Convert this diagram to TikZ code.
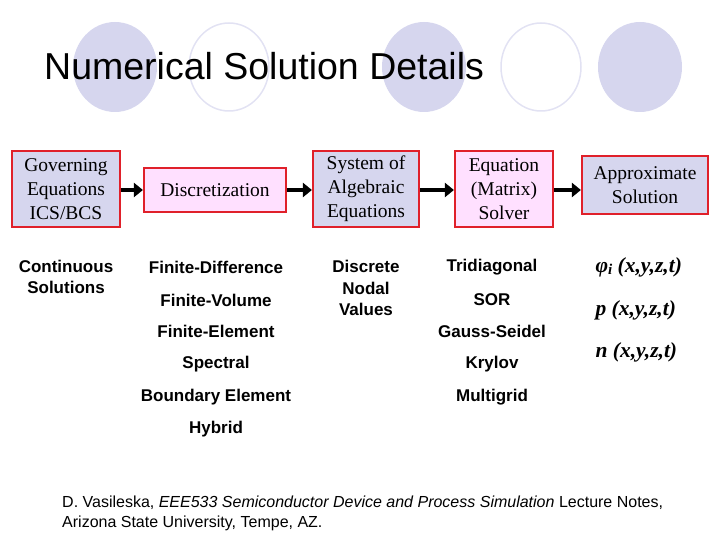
\documentclass[tikz,border=0pt]{standalone}
\usepackage{fontspec}
\setmainfont{Liberation Serif}
\newfontfamily\arial{Liberation Sans}
\usetikzlibrary{arrows.meta}
\definecolor{lav}{HTML}{D6D6EE}
\definecolor{pnk}{HTML}{FFE0FF}
\definecolor{bred}{HTML}{E0202A}
\tikzset{
 boxa/.style={draw=bred,line width=2.2pt,fill=lav,align=center,font=\fontsize{19.5}{24}\selectfont,inner sep=0pt},
 boxb/.style={boxa,fill=pnk},
 item/.style={font=\arial\bfseries\fontsize{17}{21.5}\selectfont,align=center},
 fn/.style={font=\bfseries\itshape\fontsize{21.5}{24}\selectfont},
 conn/.style={line width=4pt,-{Triangle[length=9pt,width=14pt]}},
}
\begin{document}
\begin{tikzpicture}[x=1pt,y=-1pt]
\useasboundingbox (0,0) rectangle (720,540);
\fill[lav] (115,67) ellipse [x radius=42,y radius=45];
\draw[lav!70,line width=1.5pt] (229,67) ellipse [x radius=40,y radius=44];
\fill[lav] (424,67) ellipse [x radius=42,y radius=45];
\draw[lav!70,line width=1.5pt] (541,67) ellipse [x radius=40,y radius=44];
\fill[lav] (640,67) ellipse [x radius=42,y radius=45];
\node[anchor=base west,font=\arial\fontsize{37.5}{40}\selectfont,inner sep=0] (title) at (44,80) {Numerical Solution Details};

\node[boxa,minimum width=108pt,minimum height=76pt] (b1) at (66,189) {Governing\\Equations\\ICS/BCS};
\node[boxb,minimum width=142pt,minimum height=44pt] (b2) at (215,190) {Discretization};
\node[boxa,minimum width=106pt,minimum height=76pt] (b3) at (366,189) {System of\\Algebraic\\Equations};
\node[boxb,minimum width=98pt,minimum height=76pt] (b4) at (504,189) {Equation\\(Matrix)\\Solver};
\node[boxa,minimum width=126pt,minimum height=58pt] (b5) at (645,185) {Approximate\\Solution};
\draw[conn] (b1.east|-b2) -- (b2.west);
\draw[conn] (b2.east) -- (b3.west|-b2);
\draw[conn] (b3.east|-b2) -- (b4.west|-b2);
\draw[conn] (b4.east|-b2) -- (b5.west|-b2);

\node[item] (c1) at (66,277) {Continuous\\Solutions};
\node[item] (d1) at (216,267) {Finite-Difference};
\node[item] (d2) at (216,300) {Finite-Volume};
\node[item] (d3) at (216,331) {Finite-Element};
\node[item] (d4) at (216,364) {Spectral};
\node[item] (d5) at (216,397) {Boundary Element};
\node[item] (d6) at (216,429) {Hybrid};
\node[item] (e1) at (366,288) {Discrete\\Nodal\\Values};
\node[item] (f1) at (492,267) {Tridiagonal};
\node[item] (f2) at (492,300) {SOR};
\node[item] (f3) at (492,331) {Gauss-Seidel};
\node[item] (f4) at (492,364) {Krylov};
\node[item] (f5) at (492,397) {Multigrid};
\node[fn,anchor=west] (g1) at (592,267) {φ\raisebox{-0.25ex}{\fontsize{15}{16}\selectfont i} (x,y,z,t)};
\node[fn,anchor=west] (g2) at (592,310) {p (x,y,z,t)};
\node[fn,anchor=west] (g3) at (592,352) {n (x,y,z,t)};

\node[anchor=north west,align=left,font=\arial\fontsize{16}{20}\selectfont,inner sep=0] (foot) at (62,496) {D. Vasileska, \textit{EEE533 Semiconductor Device and Process Simulation} Lecture Notes,\\Arizona State University, Tempe, AZ.};
\end{tikzpicture}
\end{document}
